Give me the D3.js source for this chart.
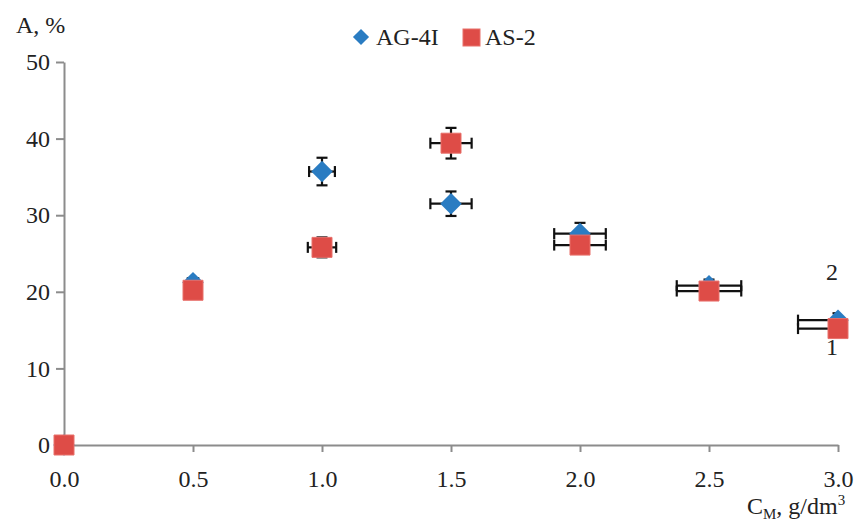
<!DOCTYPE html>
<html>
<head>
<meta charset="utf-8">
<script src="https://cdn.jsdelivr.net/npm/d3@7"></script>
<style>
	body { margin: 0; background: #fff; }
	svg text { font-family: "Liberation Serif", "DejaVu Serif", serif; fill: #222; }
</style>
</head>
<body>
<div id="chart"></div>
<script>
// concentration, g/dm3
const xValues = [0, 0.5, 1.0, 1.5, 2.0, 2.5, 3.0];

// AG-4I (curve 2)
const ag4iY    = [0, 21.2, 35.7, 31.5, 27.6, 20.8, 16.3];
const ag4iYErr = [0, 0.3, 1.8, 1.6, 1.4, 0.8, 0.9];
const ag4iXErr = [0, 0.02, 0.05, 0.08, 0.1, 0.125, 0.155];

// AS-2 (curve 1)
const as2Y    = [0, 20.2, 25.8, 39.4, 26.1, 20.1, 15.2];
const as2YErr = [0, 0.6, 1.3, 2.0, 0.8, 0.6, 0.6];
const as2XErr = [0, 0.02, 0.055, 0.08, 0.1, 0.125, 0.155];

const xTicks = [0, 0.5, 1.0, 1.5, 2.0, 2.5, 3.0];
const yTicks = [0, 10, 20, 30, 40, 50];
const seriesNames = ["AG-4I", "AS-2"];
const curveLabels = [{x: 3.0, y: 21.6, t: "2"}, {x: 3.0, y: 11.7, t: "1"}];

const width = 865, height = 524;
const blue = "#2a7cc2", red = "#de4c47";
const serif = '"Liberation Serif", "DejaVu Serif", serif';

const svg = d3.select("#chart").append("svg")
	.attr("width", width)
	.attr("height", height)
	.style("font-family", serif);

let x = d3.scaleLinear().domain([0, 3]).range([64, 838]);
let y = d3.scaleLinear().domain([0, 50]).range([445, 62]);

// clip for error bars (plot area only)
svg.append("defs").append("clipPath").attr("id", "plotClip")
	.append("rect")
	.attr("x", x(0)).attr("y", y(50))
	.attr("width", x(3) - x(0)).attr("height", y(0) - y(50));

// axes
const xAxis = svg.append("g")
	.attr("transform", `translate(0,${y(0)})`)
	.call(d3.axisBottom(x).tickValues(xTicks).tickFormat(d3.format(".1f")).tickSize(7).tickSizeOuter(0));
const yAxis = svg.append("g")
	.attr("transform", `translate(${x(0)},0)`)
	.call(d3.axisLeft(y).tickValues(yTicks).tickSize(8).tickSizeOuter(0));

[xAxis, yAxis].forEach(a => {
	a.attr("font-family", null).attr("font-size", null);
	a.select(".domain").attr("stroke", "#8c8c8c").attr("stroke-width", 2);
	a.selectAll(".tick line").attr("stroke", "#8c8c8c").attr("stroke-width", 2);
	a.selectAll(".tick text")
		.style("font-family", serif)
		.style("font-size", "24px")
		.attr("fill", "#222");
});
xAxis.selectAll(".tick text").attr("dy", null).attr("y", 42);
yAxis.selectAll(".tick text").attr("x", -14);
// no tick mark at 0 on the y axis
yAxis.selectAll(".tick line").filter(d => d === 0).remove();

// axis titles
svg.append("text").attr("x", 16).attr("y", 33)
	.style("font-size", "24px").text("A, %");

const xt = svg.append("text").attr("x", 747).attr("y", 514).style("font-size", "24px");
xt.append("tspan").text("C");
xt.append("tspan").attr("dy", 5).style("font-size", "15px").text("M");
xt.append("tspan").attr("dy", -5).text(", g/dm");
xt.append("tspan").attr("dy", -9).style("font-size", "15px").text("3");

// curve numbers, drawn under the markers
svg.append("g").selectAll("text")
	.data(curveLabels)
	.join("text")
	.attr("x", d => x(d.x) - 12)
	.attr("y", d => y(d.y))
	.style("font-size", "24px")
	.text(d => d.t);

const series = [
	{name: seriesNames[0], ys: ag4iY, ye: ag4iYErr, xe: ag4iXErr, color: blue, shape: "diamond"},
	{name: seriesNames[1], ys: as2Y, ye: as2YErr, xe: as2XErr, color: red, shape: "square"}
];

function drawErrors(g, s) {
	let pts = xValues.map((xv, i) => ({x: xv, y: s.ys[i], ye: s.ye[i], xe: s.xe[i]}));
	let cap = 5.5;
	pts.forEach(p => {
		if (p.ye > 0) {
			g.append("line").attr("x1", x(p.x)).attr("x2", x(p.x))
				.attr("y1", y(p.y - p.ye)).attr("y2", y(p.y + p.ye));
			[p.y - p.ye, p.y + p.ye].forEach(v => g.append("line")
				.attr("x1", x(p.x) - cap).attr("x2", x(p.x) + cap)
				.attr("y1", y(v)).attr("y2", y(v)));
		}
		if (p.xe > 0) {
			g.append("line").attr("y1", y(p.y)).attr("y2", y(p.y))
				.attr("x1", x(p.x - p.xe)).attr("x2", x(p.x + p.xe));
			[p.x - p.xe, p.x + p.xe].forEach(v => g.append("line")
				.attr("y1", y(p.y) - cap).attr("y2", y(p.y) + cap)
				.attr("x1", x(v)).attr("x2", x(v)));
		}
	});
}

const errG = svg.append("g")
	.attr("clip-path", "url(#plotClip)")
	.attr("stroke", "#111")
	.attr("stroke-width", 2.2);
series.forEach(s => drawErrors(errG, s));

const diamond = d3.symbol().type(d3.symbolSquare).size(230);
const square = d3.symbol().type(d3.symbolSquare).size(400);

series.forEach(s => {
	svg.append("g").selectAll("path")
		.data(xValues.map((xv, i) => ({x: xv, y: s.ys[i]})))
		.join("path")
		.attr("d", s.shape === "diamond" ? diamond : square)
		.attr("transform", d => `translate(${x(d.x)},${y(d.y)})` + (s.shape === "diamond" ? " rotate(45)" : ""))
		.attr("fill", s.color)
		.attr("stroke", s.shape === "square" ? "#e8706b" : "none")
		.attr("stroke-width", 1);
});

// legend
const legend = svg.append("g");
legend.append("path")
	.attr("d", d3.symbol().type(d3.symbolSquare).size(130))
	.attr("transform", "translate(361,37) rotate(45)")
	.attr("fill", blue);
legend.append("text").attr("x", 376).attr("y", 45).style("font-size", "24px").text(seriesNames[0]);
legend.append("rect").attr("x", 463).attr("y", 29).attr("width", 17).attr("height", 17)
	.attr("fill", red).attr("stroke", "#e8706b");
legend.append("text").attr("x", 485).attr("y", 45).style("font-size", "24px").text(seriesNames[1]);
</script>
</body>
</html>
